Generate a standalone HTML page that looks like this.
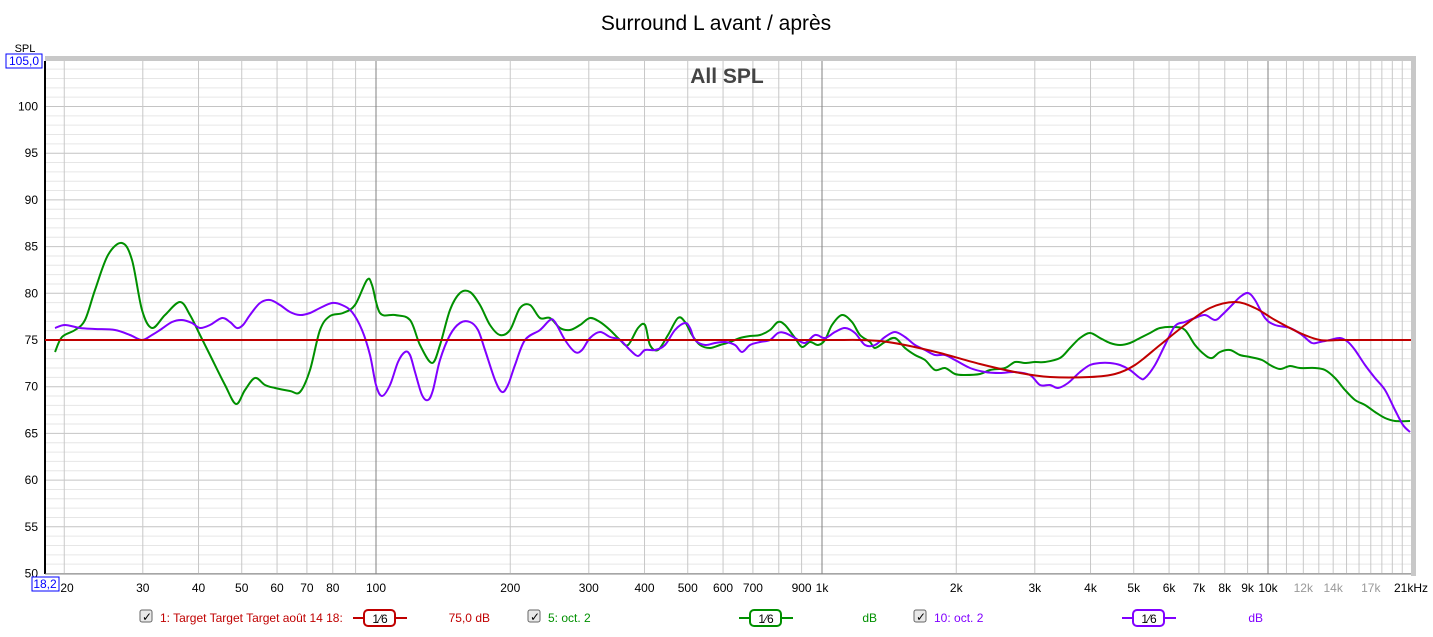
<!DOCTYPE html>
<html><head><meta charset="utf-8"><style>
body{margin:0;background:#fff;font-family:"Liberation Sans",sans-serif}
</style></head><body>
<svg id="s" width="1433" height="632" xmlns="http://www.w3.org/2000/svg" font-family="Liberation Sans, sans-serif"></svg>
<script>
const s=document.getElementById('s');let h='';
function fx(f){return 376+446*(Math.log10(f)-2);}
function fy(d){return 340-(d-75)*9.34;}
const L=45,R=1411,T=61,B=574;
h+=`<text x="716" y="30" font-size="21" text-anchor="middle">Surround L avant / après</text>`;
for(let d=50;d<=105;d++){const y=fy(d);h+=`<line x1="${L}" x2="${R}" y1="${y}" y2="${y}" stroke="${d%5?'#e6e6e6':'#c4c4c4'}" stroke-width="1"/>`;}
const fr=[];for(let dec of [10,100,1000,10000])for(let k=1;k<10;k++){const f=dec*k;if(f>=20&&f<=21000)fr.push(f);}
for(let f=11000;f<=21000;f+=1000)if(!fr.includes(f))fr.push(f);
for(const f of fr){const x=fx(f);const dk=(f==100||f==1000||f==10000);h+=`<line x1="${x}" x2="${x}" y1="${T}" y2="${B}" stroke="${dk?'#808080':'#c8c8c8'}"/>`;}
h+=`<rect x="${L}" y="56" width="${R-L+5}" height="5" fill="#c8c8c8"/><rect x="${R}" y="56" width="5" height="${B-56+2}" fill="#c8c8c8"/>`;
h+=`<line x1="${L}" x2="${L}" y1="${T}" y2="${B}" stroke="#000" stroke-width="2"/><line x1="${L}" x2="${R}" y1="${B}" y2="${B}" stroke="#888" stroke-width="1"/>`;
for(let d=55;d<=100;d+=5)h+=`<text x="38" y="${fy(d)+4}" font-size="12" text-anchor="end">${d}</text>`;
h+=`<text x="38" y="${fy(50)+4}" font-size="12" text-anchor="end">50</text>`;
h+=`<text x="25" y="52" font-size="11" text-anchor="middle">SPL</text><rect x="6" y="54" width="36" height="14" fill="#fff" stroke="#00f"/><text x="24" y="65" font-size="12" fill="#00f" text-anchor="middle">105,0</text>`;
h+=`<rect x="32" y="577" width="27" height="14" fill="#fff" stroke="#00f"/><text x="45" y="588" font-size="12" fill="#00f" text-anchor="middle">18,2</text>`;
const xl=[[20,'20'],[30,'30'],[40,'40'],[50,'50'],[60,'60'],[70,'70'],[80,'80'],[100,'100'],[200,'200'],[300,'300'],[400,'400'],[500,'500'],[600,'600'],[700,'700'],[900,'900'],[1000,'1k'],[2000,'2k'],[3000,'3k'],[4000,'4k'],[5000,'5k'],[6000,'6k'],[7000,'7k'],[8000,'8k'],[9000,'9k'],[10000,'10k']];
for(const [f,t] of xl){let x=fx(f);if(f==20)x=67;h+=`<text x="${x}" y="592" font-size="12" text-anchor="middle">${t}</text>`;}
for(const [f,t] of [[12000,'12k'],[14000,'14k'],[17000,'17k']])h+=`<text x="${fx(f)}" y="592" font-size="12" fill="#999" text-anchor="middle">${t}</text>`;
h+=`<text x="1411" y="592" font-size="12" text-anchor="middle">21kHz</text>`;
h+=`<text x="727" y="83" font-size="21" font-weight="bold" fill="#444" text-anchor="middle">All SPL</text>`;
function path(p){let d=`M${p[0][0]},${p[0][1]}`;for(let i=0;i<p.length-1;i++){const a=p[Math.max(0,i-1)],b=p[i],c=p[i+1],e=p[Math.min(p.length-1,i+2)];d+=` C${b[0]+(c[0]-a[0])/6},${b[1]+(c[1]-a[1])/6} ${c[0]-(e[0]-b[0])/6},${c[1]-(e[1]-b[1])/6} ${c[0]},${c[1]}`;}return d;}
const G=[[55,352],[62,337],[75,330],[85,320],[95,290],[108,255],[122,243],[132,260],[142,310],[152,328],[165,315],[180,302],[190,315],[200,335],[210,355],[225,385],[236,404],[245,390],[255,378],[265,385],[275,388],[290,391],[300,392],[310,370],[320,330],[330,316],[343,313],[355,305],[367,280],[372,285],[380,313],[395,315],[410,320],[420,345],[432,363],[440,345],[450,310],[460,293],[470,292],[480,305],[490,325],[500,335],[510,330],[520,308],[530,305],[540,318],[550,318],[560,328],[570,330],[580,325],[590,318],[600,322],[610,330],[620,340],[628,345],[638,328],[645,325],[650,345],[658,350],[668,335],[678,318],[685,322],[692,335],[700,345],[710,348],[720,345],[730,342],[740,338],[750,336],[760,335],[770,330],[778,322],[785,325],[795,338],[802,347],[810,342],[818,345],[825,340],[832,325],[842,315],[852,322],[860,335],[870,342],[875,348],[885,342],[895,338],[905,348],[915,355],[925,360],[935,370],[945,368],[955,374],[965,375],[980,374],[990,370],[1005,368],[1015,362],[1025,363],[1035,362],[1045,362],[1060,358],[1070,348],[1080,338],[1090,333],[1100,338],[1110,343],[1120,345],[1130,343],[1140,338],[1150,333],[1160,328],[1175,327],[1185,330],[1195,345],[1205,355],[1212,358],[1220,352],[1230,350],[1240,355],[1250,357],[1262,360],[1270,365],[1280,369],[1290,366],[1300,368],[1315,368],[1325,370],[1335,378],[1345,390],[1355,400],[1365,405],[1375,412],[1385,418],[1395,421],[1410,421]];
const P=[[55,328],[65,325],[80,328],[95,329],[115,330],[130,335],[142,340],[152,335],[160,330],[172,322],[182,320],[192,323],[200,328],[210,325],[222,318],[230,322],[237,328],[243,325],[250,315],[260,303],[270,300],[280,305],[290,312],[300,315],[310,313],[320,308],[332,303],[342,305],[352,312],[362,330],[370,355],[376,385],[382,396],[390,385],[398,362],[405,352],[410,355],[415,372],[422,395],[428,400],[433,390],[440,360],[450,335],[460,323],[470,322],[478,330],[485,350],[495,380],[502,392],[508,385],[515,365],[525,340],[540,330],[550,320],[555,322],[565,340],[575,352],[582,350],[590,338],[600,332],[610,337],[620,340],[630,350],[638,356],[645,350],[655,350],[665,345],[675,330],[685,323],[690,328],[695,340],[705,345],[715,343],[725,342],[735,345],[742,352],[750,345],[760,342],[770,340],[778,333],[785,333],[795,338],[805,343],[815,335],[825,338],[835,332],[845,328],[855,333],[865,345],[875,345],[885,337],[895,332],[905,337],[915,345],[925,350],[935,355],[945,355],[955,360],[970,368],[985,372],[1000,373],[1015,372],[1030,375],[1040,385],[1050,385],[1058,388],[1068,383],[1080,372],[1090,365],[1100,363],[1110,363],[1120,365],[1130,370],[1140,378],[1145,378],[1155,365],[1165,345],[1175,326],[1185,322],[1195,318],[1205,315],[1215,320],[1222,315],[1232,305],[1240,297],[1248,293],[1255,300],[1265,318],[1275,325],[1290,328],[1302,335],[1312,343],[1320,342],[1330,340],[1340,338],[1348,342],[1355,350],[1365,365],[1375,378],[1385,390],[1395,410],[1403,425],[1410,432]];
const Rd=[[840,340],[860,340],[880,341],[905,345],[940,353],[980,364],[1020,373],[1050,377],[1090,377],[1115,374],[1135,365],[1160,345],[1185,325],[1210,308],[1235,302],[1255,308],[1275,320],[1300,333],[1320,340],[1340,340]];
h+=`<path d="${path(G)}" fill="none" stroke="#009000" stroke-width="2"/>`;
h+=`<path d="${path(P)}" fill="none" stroke="#8000ff" stroke-width="2"/>`;
h+=`<path d="M45,340 L840,340 ${path(Rd).replace('M','L')} L1411,340" fill="none" stroke="#c00000" stroke-width="2"/>`;
function leg(cx,text,col,lx,val,vx){let o=`<rect x="${cx}" y="610" width="12" height="12" rx="2" fill="#e8e8e8" stroke="#666"/><text x="${cx+2}" y="621" font-size="12">✓</text><text x="${cx+20}" y="622" font-size="12" fill="${col}">${text}</text>`;
o+=`<line x1="${lx}" x2="${lx+54}" y1="618" y2="618" stroke="${col}" stroke-width="2"/><rect x="${lx+11}" y="610" width="31" height="16" rx="4" fill="#fff" stroke="${col}" stroke-width="2"/><text x="${lx+27}" y="623" font-size="12" text-anchor="middle">1⁄6</text><text x="${vx}" y="622" font-size="12" fill="${col}" text-anchor="end">${val}</text>`;return o;}
h+=leg(140,'1: Target Target Target août 14 18:','#c00000',353,'75,0 dB',490);
h+=leg(528,'5: oct. 2','#009000',739,'dB',877);
h+=leg(914,'10: oct. 2','#8000ff',1122,'dB',1263);
s.innerHTML=h;
</script>
</body></html>
